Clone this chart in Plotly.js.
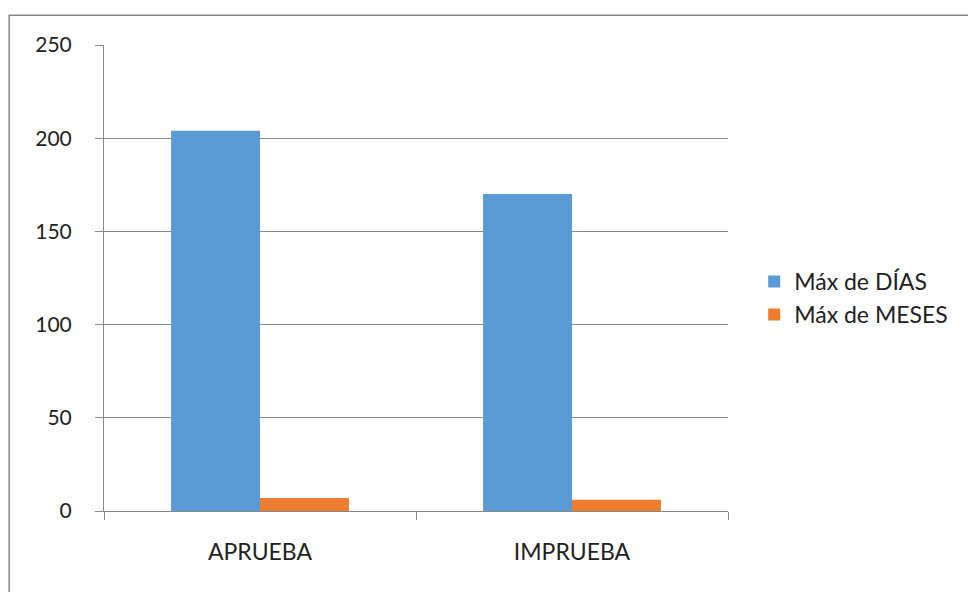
<!DOCTYPE html>
<html>
<head>
<meta charset="utf-8">
<script src="https://cdn.plot.ly/plotly-3.0.1.min.js"></script>
<style>html,body{margin:0;padding:0;background:#fff;}#chart{width:968px;height:592px;}</style>
</head>
<body>
<div id="chart"></div>
<script>
const categories = ["APRUEBA", "IMPRUEBA"];
const diasValues = [204, 170];
const mesesValues = [7, 6];
const seriesNames = ["Máx de DÍAS", "Máx de MESES"];
const yTickVals = [0, 50, 100, 150, 200, 250];

const traces = [
  {type: "bar", x: categories, y: diasValues, name: seriesNames[0], marker: {color: "#5B9BD5"}},
  {type: "bar", x: categories, y: mesesValues, name: seriesNames[1], marker: {color: "#ED7D31"}}
];

const layout = {
  width: 968, height: 592,
  margin: {l: 104, r: 240, t: 45, b: 81},
  paper_bgcolor: "#fff", plot_bgcolor: "#fff",
  font: {family: "Lato, 'Open Sans', sans-serif", size: 23, color: "#222"},
  barmode: "group", bargap: 0.43, bargroupgap: 0,
  showlegend: true,
  legend: {x: 1.042, y: 0.457, xanchor: "left", yanchor: "middle", font: {size: 23, color: "#222"}, itemwidth: 30, tracegroupgap: 0, bgcolor: "rgba(0,0,0,0)"},
  xaxis: {
    type: "category", showgrid: false, zeroline: false,
    showline: true, linecolor: "#888", linewidth: 1,
    ticks: "outside", tickson: "boundaries", ticklen: 8, tickcolor: "#888",
    ticklabelstandoff: 20, tickfont: {size: 23, color: "#222"}
  },
  yaxis: {
    range: [0, 250], tickvals: yTickVals, showgrid: true, gridcolor: "#8c8c8c", gridwidth: 1,
    zeroline: false, showline: true, linecolor: "#888", linewidth: 1,
    ticks: "outside", ticklen: 8, tickcolor: "#888", ticklabelstandoff: 19,
    tickfont: {size: 21, color: "#222"}
  },
  shapes: [{type: "rect", xref: "paper", yref: "paper", x0: -0.152, x1: 2, y0: -1, y1: 1.064, line: {color: "#888", width: 1.5}, fillcolor: "rgba(0,0,0,0)", layer: "below"}]
};

Plotly.newPlot("chart", traces, layout, {displayModeBar: false, staticPlot: true});
</script>
</body>
</html>
